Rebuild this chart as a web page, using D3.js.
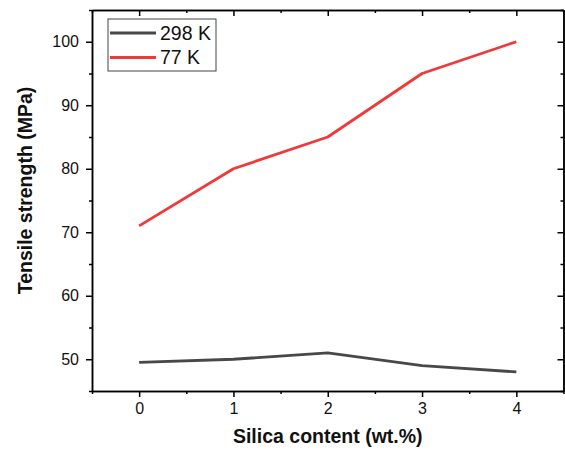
<!DOCTYPE html>
<html>
<head>
<meta charset="utf-8">
<script src="https://cdn.jsdelivr.net/npm/d3@7"></script>
<style>
  body { margin: 0; background: #fff; }
  text { font-family: "Liberation Sans", Arial, sans-serif; fill: #111; }
</style>
</head>
<body>
<div id="chart"></div>
<script>
const silica = [0, 1, 2, 3, 4];
const roomTemp = [49.5, 50, 51, 49, 48];   // 298 K
const cryo = [71, 80, 85, 95, 100];        // 77 K
const seriesNames = ["298 K", "77 K"];
const seriesColors = ["#484848", "#f03a3a"];
const xTicks = [0, 1, 2, 3, 4];
const yTicks = [50, 60, 70, 80, 90, 100];

const W = 565, H = 453;
const m = { top: 10, right: 1.5, bottom: 62, left: 92 };

let svg = d3.select("#chart").append("svg")
    .attr("width", W)
    .attr("height", H);

let x = d3.scaleLinear().domain([-0.5, 4.5]).range([m.left, W - m.right]);
let y = d3.scaleLinear().domain([45, 105]).range([H - m.bottom, m.top]);

let minorX = d3.range(-0.5, 4.6, 0.5).filter(d => !xTicks.includes(d));
let minorY = d3.range(45, 106, 5).filter(d => !yTicks.includes(d));

function styleAxis(g) {
    g.select(".domain").attr("stroke", "#000").attr("stroke-width", 1.5);
    g.selectAll(".tick line").attr("stroke", "#000").attr("stroke-width", 1.5);
    g.selectAll("text").style("font-size", "16px").attr("fill", "#111");
}

// bottom
svg.append("g")
    .attr("transform", `translate(0,${y.range()[0]})`)
    .call(d3.axisBottom(x).tickValues(minorX).tickSize(3).tickFormat("").tickSizeOuter(0))
    .call(styleAxis);
svg.append("g")
    .attr("transform", `translate(0,${y.range()[0]})`)
    .call(d3.axisBottom(x).tickValues(xTicks).tickSize(6).tickPadding(6).tickFormat(d3.format("d")).tickSizeOuter(0))
    .call(styleAxis);

// top (inward ticks)
svg.append("g")
    .attr("transform", `translate(0,${m.top})`)
    .call(d3.axisTop(x).tickValues(minorX).tickSize(-3).tickFormat("").tickSizeOuter(0))
    .call(styleAxis);
svg.append("g")
    .attr("transform", `translate(0,${m.top})`)
    .call(d3.axisTop(x).tickValues(xTicks).tickSize(-6).tickFormat("").tickSizeOuter(0))
    .call(styleAxis);

// left
svg.append("g")
    .attr("transform", `translate(${m.left},0)`)
    .call(d3.axisLeft(y).tickValues(minorY).tickSize(3).tickFormat("").tickSizeOuter(0))
    .call(styleAxis);
svg.append("g")
    .attr("transform", `translate(${m.left},0)`)
    .call(d3.axisLeft(y).tickValues(yTicks).tickSize(6).tickPadding(7).tickSizeOuter(0))
    .call(styleAxis);

// right (inward ticks)
svg.append("g")
    .attr("transform", `translate(${W - m.right},0)`)
    .call(d3.axisRight(y).tickValues(minorY).tickSize(-3).tickFormat("").tickSizeOuter(0))
    .call(styleAxis);
svg.append("g")
    .attr("transform", `translate(${W - m.right},0)`)
    .call(d3.axisRight(y).tickValues(yTicks).tickSize(-6).tickFormat("").tickSizeOuter(0))
    .call(styleAxis);

// lines
let line = d3.line()
    .x((d, i) => x(silica[i]))
    .y(d => y(d));

[roomTemp, cryo].forEach((vals, i) => {
    svg.append("path")
        .datum(vals)
        .attr("d", line)
        .attr("fill", "none")
        .attr("stroke", seriesColors[i])
        .attr("stroke-width", 2.8)
        .attr("stroke-linejoin", "round");
});

// axis titles
svg.append("text")
    .attr("x", (x.range()[0] + x.range()[1]) / 2)
    .attr("y", 443)
    .attr("text-anchor", "middle")
    .style("font-size", "19.5px")
    .style("font-weight", "bold")
    .text("Silica content (wt.%)");

svg.append("text")
    .attr("transform", `translate(32,${(y.range()[0] + y.range()[1]) / 2 - 10}) rotate(-90)`)
    .attr("text-anchor", "middle")
    .style("font-size", "19.5px")
    .style("font-weight", "bold")
    .text("Tensile strength (MPa)");

// legend
let legend = svg.append("g").attr("transform", "translate(108,19)");
legend.append("rect")
    .attr("width", 108)
    .attr("height", 52)
    .attr("fill", "#fff")
    .attr("stroke", "#444")
    .attr("stroke-width", 1);

seriesNames.forEach((name, i) => {
    let cy = 14 + i * 24.5;
    legend.append("line")
        .attr("x1", 2).attr("x2", 48)
        .attr("y1", cy).attr("y2", cy)
        .attr("stroke", seriesColors[i])
        .attr("stroke-width", 2.8);
    legend.append("text")
        .attr("x", 52)
        .attr("y", cy)
        .attr("dy", "0.35em")
        .style("font-size", "19.5px")
        .text(name);
});
</script>
</body>
</html>
